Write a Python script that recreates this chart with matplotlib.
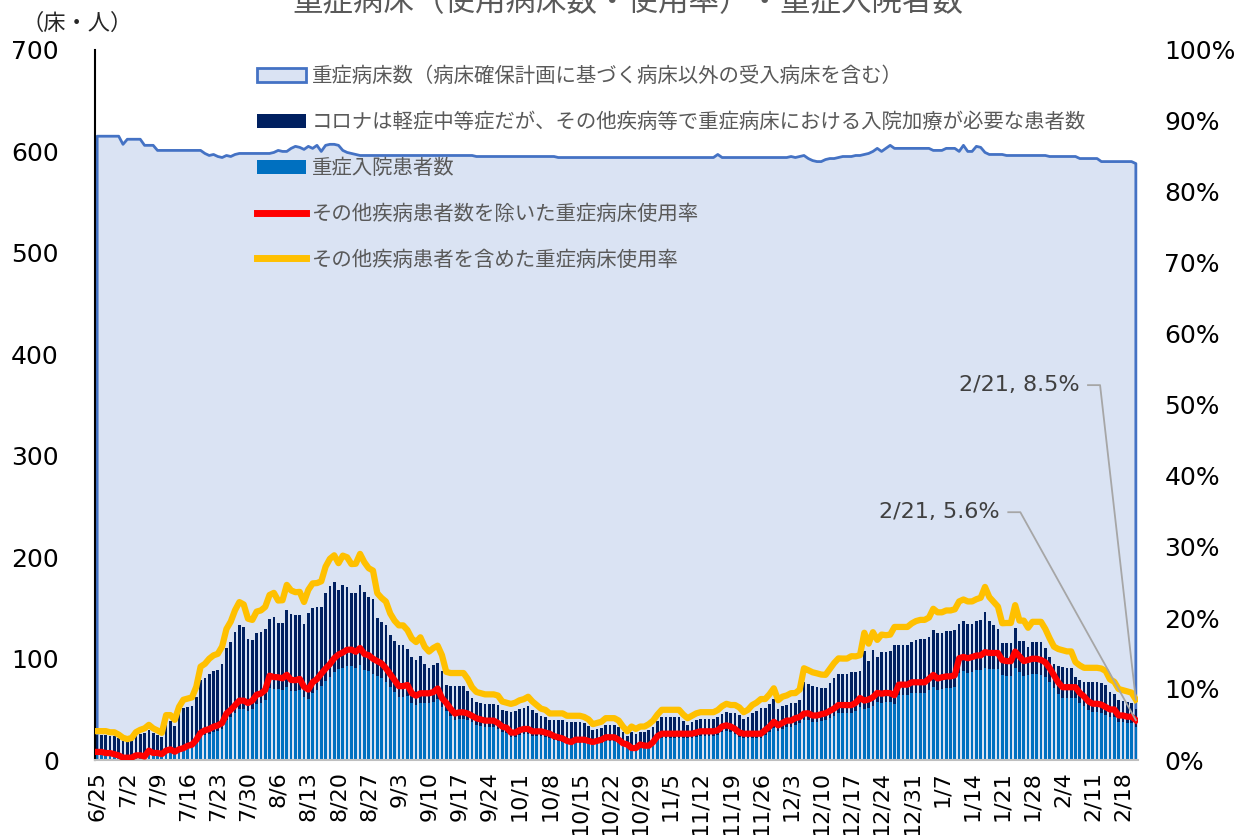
import numpy as np
import pandas as pd
import matplotlib
matplotlib.use("Agg")
import matplotlib.pyplot as plt
from matplotlib.patches import Patch
from matplotlib.lines import Line2D
from matplotlib.ticker import FuncFormatter

plt.rcParams['font.family'] = ['DejaVu Sans', 'Noto Sans CJK JP']

# daily values, 6/25 .. 2/21
dates = pd.date_range('2021-06-25', '2022-02-21', freq='D')
date_labels = ['{}/{}'.format(d.month, d.day) for d in dates]

# 重症病床数
beds = [615, 615, 615, 615, 615, 615, 607, 612, 612, 612,
        612, 606, 606, 606, 601, 601, 601, 601, 601, 601,
        601, 601, 601, 601, 601, 598, 596, 597, 595, 594,
        596, 595, 597, 598, 598, 598, 598, 598, 598, 598,
        598, 599, 601, 600, 600, 603, 605, 604, 602, 605,
        603, 606, 600, 606, 607, 607, 606, 601, 599, 598,
        597, 596, 596, 596, 596, 596, 596, 596, 596, 596,
        596, 596, 596, 596, 596, 596, 596, 596, 596, 596,
        596, 596, 596, 596, 596, 596, 596, 596, 595, 595,
        595, 595, 595, 595, 595, 595, 595, 595, 595, 595,
        595, 595, 595, 595, 595, 595, 595, 594, 594, 594,
        594, 594, 594, 594, 594, 594, 594, 594, 594, 594,
        594, 594, 594, 594, 594, 594, 594, 594, 594, 594,
        594, 594, 594, 594, 594, 594, 594, 594, 594, 594,
        594, 594, 594, 594, 597, 594, 594, 594, 594, 594,
        594, 594, 594, 594, 594, 594, 594, 594, 594, 594,
        594, 595, 594, 595, 596, 593, 591, 590, 590, 592,
        593, 593, 594, 595, 595, 595, 596, 596, 597, 598,
        600, 603, 600, 603, 606, 603, 603, 603, 603, 603,
        603, 603, 603, 603, 601, 601, 601, 603, 603, 603,
        600, 606, 600, 600, 605, 604, 599, 597, 597, 597,
        597, 596, 596, 596, 596, 596, 596, 596, 596, 596,
        596, 595, 595, 595, 595, 595, 595, 595, 593, 593,
        593, 593, 593, 590, 590, 590, 590, 590, 590, 590,
        590, 588]

# 重症入院患者数
severe = [7, 7, 6, 6, 5, 4, 2, 2, 2, 4,
          4, 3, 8, 6, 6, 5, 8, 9, 7, 9,
          10, 12, 13, 17, 23, 25, 26, 28, 29, 31,
          39, 42, 46, 50, 50, 48, 50, 55, 56, 59,
          71, 70, 70, 69, 72, 68, 68, 69, 62, 60,
          66, 69, 73, 78, 82, 87, 90, 91, 93, 93,
          91, 94, 89, 88, 85, 83, 81, 77, 72, 67,
          62, 62, 63, 56, 54, 56, 56, 56, 57, 60,
          52, 48, 43, 39, 40, 40, 39, 37, 35, 34,
          33, 33, 33, 31, 28, 27, 23, 23, 25, 26,
          26, 24, 24, 24, 23, 22, 20, 19, 18, 16,
          15, 17, 17, 17, 16, 15, 16, 17, 19, 19,
          19, 17, 14, 13, 10, 10, 13, 12, 12, 15,
          20, 22, 22, 22, 22, 22, 22, 22, 22, 23,
          24, 24, 24, 24, 25, 28, 29, 28, 26, 23,
          22, 22, 22, 22, 22, 25, 28, 32, 29, 31,
          33, 33, 35, 36, 39, 39, 37, 37, 38, 39,
          41, 43, 46, 46, 46, 46, 48, 52, 50, 51,
          53, 57, 56, 57, 57, 55, 64, 64, 64, 66,
          66, 66, 66, 69, 72, 69, 70, 71, 71, 72,
          86, 88, 86, 87, 89, 89, 91, 90, 90, 90,
          84, 83, 83, 91, 87, 83, 84, 85, 85, 84,
          82, 77, 71, 65, 61, 61, 61, 61, 56, 53,
          49, 47, 47, 46, 44, 42, 42, 37, 37, 36,
          36, 33]

# コロナは軽症中等症だが、その他疾病等で重症病床に入院している患者数
other = [18, 18, 19, 18, 19, 18, 17, 16, 17, 20,
         22, 24, 22, 21, 19, 18, 30, 29, 27, 36,
         41, 40, 40, 45, 56, 56, 59, 60, 60, 64,
         71, 74, 80, 83, 81, 71, 68, 70, 70, 70,
         68, 71, 65, 66, 76, 76, 75, 74, 72, 85,
         84, 82, 78, 87, 90, 88, 78, 82, 78, 72,
         74, 79, 77, 73, 74, 57, 55, 56, 51, 50,
         51, 51, 46, 46, 45, 47, 39, 35, 37, 36,
         36, 26, 30, 34, 33, 33, 29, 24, 22, 22,
         22, 22, 22, 23, 21, 21, 24, 25, 25, 25,
         27, 25, 22, 19, 19, 17, 19, 20, 21, 21,
         22, 20, 20, 19, 18, 15, 15, 15, 16, 16,
         16, 16, 14, 11, 18, 16, 15, 16, 18, 18,
         18, 20, 20, 20, 20, 20, 16, 13, 15, 16,
         16, 16, 16, 16, 17, 17, 18, 18, 20, 21,
         18, 20, 24, 26, 29, 26, 27, 28, 21, 22,
         21, 23, 21, 23, 38, 36, 36, 35, 33, 32,
         35, 38, 39, 39, 39, 41, 39, 36, 57, 47,
         55, 45, 50, 49, 50, 58, 49, 49, 49, 50,
         52, 53, 53, 52, 56, 56, 55, 56, 56, 56,
         48, 49, 48, 47, 48, 49, 55, 47, 43, 39,
         31, 32, 32, 39, 30, 34, 27, 31, 31, 32,
         28, 25, 24, 28, 31, 30, 30, 21, 23, 24,
         28, 30, 30, 30, 30, 25, 23, 22, 21, 21,
         20, 17]

beds = np.array(beds)
severe = np.array(severe)
other = np.array(other)
rate_excl = severe / beds            # その他疾病患者数を除いた使用率
rate_incl = (severe + other) / beds  # その他疾病患者を含めた使用率
x = np.arange(len(dates))

fig = plt.figure(figsize=(12.36, 8.35), dpi=100)
ax = fig.add_axes([95/1236, 1 - 760/835, 1043/1236, 710/835])

# area of beds
ax.fill_between(x, beds, color='#DAE3F3', lw=0, zorder=1)
ax.plot(np.r_[x[0], x, x[-1]], np.r_[0, beds, 0], color='#4472C4', lw=2, zorder=1.5)

# stacked bars
ax.bar(x, severe, width=0.62, color='#0070C0', zorder=2)
ax.bar(x, other, bottom=severe, width=0.62, color='#002060', zorder=2)

ax.set_xlim(-0.5, len(x) - 0.5)
ax.set_ylim(0, 700)
ax.set_yticks(range(0, 701, 100))
ax.set_xticks(x[::7])
ax.set_xticklabels(date_labels[::7], rotation=90)
ax.tick_params(axis='x', length=0, pad=8, labelsize=16)
ax.tick_params(axis='y', length=0, pad=26, labelsize=18)
for s in ['top', 'right']:
    ax.spines[s].set_visible(False)
ax.spines['left'].set_color('black')
ax.spines['left'].set_linewidth(1.5)
ax.spines['bottom'].set_color('#BFBFBF')
ax.spines['bottom'].set_linewidth(1.5)

# rates on right axis
ax2 = ax.twinx()
ax2.plot(x, rate_incl, color='#FFC000', lw=4.5, solid_joinstyle='round', zorder=3)
ax2.plot(x, rate_excl, color='#FF0000', lw=4.5, solid_joinstyle='round', zorder=3)
ax2.set_ylim(0, 1)
ax2.set_yticks(np.arange(0, 1.01, 0.1))
ax2.yaxis.set_major_formatter(FuncFormatter(lambda v, p: '{:.0f}%'.format(v * 100)))
ax2.tick_params(axis='y', length=0, pad=19, labelsize=18)
for s in ax2.spines.values():
    s.set_visible(False)

# end labels
ends = [(rate_incl[-1], 228.0, 0.528), (rate_excl[-1], 209.5, 0.349)]
for r, tx, ty in ends:
    ax2.text(tx, ty, '{}, {:.1f}%'.format(date_labels[-1], r * 100), ha='right', va='center',
             fontsize=16, color='#404040', zorder=5)
    ax2.plot([tx + 1.9, tx + 4.7, x[-1]], [ty, ty, r], color='#A6A6A6', lw=1.3, zorder=5)

handles = [Patch(facecolor='#DAE3F3', edgecolor='#4472C4', lw=2),
           Patch(facecolor='#002060'),
           Patch(facecolor='#0070C0'),
           Line2D([], [], color='#FF0000', lw=5),
           Line2D([], [], color='#FFC000', lw=5)]
labels = ['重症病床数（病床確保計画に基づく病床以外の受入病床を含む）',
          'コロナは軽症中等症だが、その他疾病等で重症病床における入院加療が必要な患者数',
          '重症入院患者数',
          'その他疾病患者数を除いた重症病床使用率',
          'その他疾病患者を含めた重症病床使用率']
ax2.legend(handles, labels, loc='upper left', bbox_to_anchor=(0.155, 0.977),
           frameon=False, fontsize=14.7, labelcolor='#595959', handlelength=2.4,
           handleheight=0.7, handletextpad=0.3, labelspacing=1.3,
           borderpad=0, borderaxespad=0)

fig.text(0.508, 1 - 3/835, '重症病床（使用病床数・使用率）・重症入院者数', ha='center', va='center',
         fontsize=22, color='#595959')
fig.text(77/1236, 1 - 23/835, '（床・人）', ha='center', va='center', fontsize=16, color='#262626')

fig.savefig('out.png', dpi=100)
